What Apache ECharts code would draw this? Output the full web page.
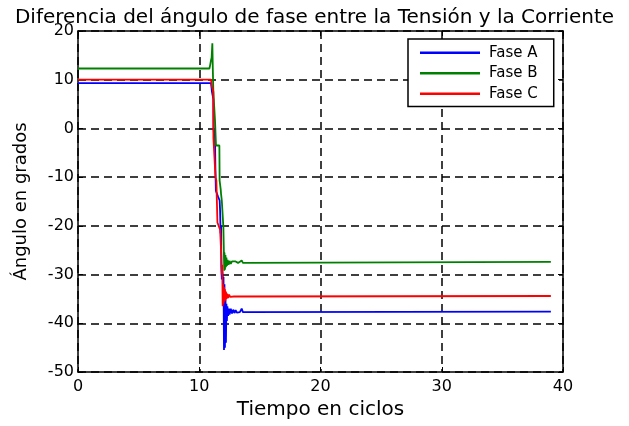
<!DOCTYPE html>
<html>
<head>
<meta charset="utf-8">
<script src="https://cdn.jsdelivr.net/npm/echarts@6/dist/echarts.min.js"></script>
<style>html,body{margin:0;padding:0;background:#fff}#c{width:629px;height:426px}</style>
</head>
<body>
<div id="c"></div>
<script>
// ---- data (cycles, degrees) ----
const xTicks = [0, 10, 20, 30, 40];
const yTicks = [-50, -40, -30, -20, -10, 0, 10, 20];

const tA = [0, 10.97, 11.05, 11.16, 11.18, 11.22, 11.28, 11.30, 11.33, 11.37, 11.45, 11.55, 11.68, 11.72, 11.76, 11.80, 11.82, 11.86, 11.90, 11.96, 12.00, 12.04, 12.08, 12.12, 12.16, 12.20, 12.24, 12.28, 12.32, 12.38, 12.44, 12.50, 12.60, 12.70, 12.80, 12.90, 13.00, 13.10, 13.20, 13.35, 13.50, 13.60, 13.70, 39];
const faseA = [9.3, 9.3, 7.5, 6, 0, -1.5, 0, -2, -8, -12.8, -12.5, -14, -14.8, -17, -21.5, -20, -28.5, -31, -29, -31, -30.5, -45.5, -32, -45, -34, -44, -36, -39.5, -36.5, -38.5, -37, -38.2, -37, -38, -37.2, -37.9, -37.3, -37.8, -37.4, -37.7, -37.0, -37.7, -37.6, -37.6];

const tB = [0, 10.84, 10.90, 10.97, 11.02, 11.08, 11.12, 11.16, 11.22, 11.30, 11.38, 11.50, 11.66, 11.68, 11.77, 11.80, 11.86, 11.99, 12.02, 12.06, 12.08, 12.12, 12.16, 12.20, 12.24, 12.28, 12.34, 12.42, 12.50, 12.60, 12.70, 12.85, 13.00, 13.20, 13.50, 13.60, 13.70, 39];
const faseB = [12.3, 12.3, 13, 14, 14.5, 17.5, 12, 7.7, 5, 1.6, -3.5, -3.5, -3.5, -10.7, -12.5, -13.5, -14.8, -20.3, -24, -29.2, -25.5, -29, -26, -28.5, -26.5, -28.2, -27, -28, -27.2, -27.8, -27.3, -27.7, -27.3, -27.6, -27.1, -27.6, -27.4, -27.4];

const tC = [0, 10.97, 11.05, 11.12, 11.16, 11.17, 11.32, 11.34, 11.41, 11.50, 11.72, 11.76, 11.82, 11.86, 11.90, 11.93, 11.97, 12.00, 12.04, 12.08, 12.12, 12.16, 12.20, 12.25, 12.30, 12.38, 12.46, 12.55, 12.70, 12.85, 39];
const faseC = [10, 10, 8.5, 8, 7.5, -2, -2, -10, -10.7, -19.3, -20.8, -21, -26, -30, -28, -36.5, -32, -36, -32.5, -35.5, -33, -35.3, -33.5, -35, -33.9, -34.8, -34.1, -34.6, -34.3, -34.5, -34.4];

const names = ['Fase A', 'Fase B', 'Fase C'];
const colors = ['#0000ff', '#008000', '#ff0000'];
const titleText = 'Diferencia del ángulo de fase entre la Tensión y la Corriente';
const xName = 'Tiempo en ciclos';
const yName = 'Ángulo en grados';

const zip = (t, v) => t.map((x, i) => [x, v[i]]);
const FONT = 'DejaVu Sans';

const chart = echarts.init(document.getElementById('c'), null, {renderer: 'canvas'});
const axLine = {show: true, onZero: false, lineStyle: {color: '#000', width: 1.5}};
const tick = {show: true, inside: true, length: 5, lineStyle: {color: '#000', width: 1}};
const grid = {show: true, lineStyle: {color: '#000', width: 1.5, type: [8, 5]}};

chart.setOption({
  animation: false,
  backgroundColor: '#fff',
  title: {
    text: titleText, left: 'center', top: 3,
    textStyle: {fontFamily: FONT, fontSize: 20, fontWeight: 'normal', color: '#000'}
  },
  legend: {
    data: names, orient: 'vertical', left: 408, top: 39,
    icon: 'rect', itemWidth: 60, itemHeight: 2.5, itemGap: 3,
    padding: [5, 16, 4, 12],
    borderColor: '#000', borderWidth: 1.5, backgroundColor: '#fff', borderRadius: 0,
    textStyle: {fontFamily: FONT, fontSize: 15, color: '#000', padding: [0, 0, 0, 4], lineHeight: 17.5}
  },
  grid: {left: 78, right: 66, top: 31, bottom: 54, containLabel: false},
  xAxis: [{
    type: 'value', min: xTicks[0], max: xTicks[xTicks.length - 1], interval: 10,
    name: xName, nameLocation: 'middle', nameGap: 27,
    nameTextStyle: {fontFamily: FONT, fontSize: 20, color: '#000'},
    axisLine: axLine, axisTick: tick, splitLine: grid,
    axisLabel: {fontFamily: FONT, fontSize: 16, color: '#000', margin: 7}
  }, {
    type: 'value', position: 'top', min: 0, max: 40, interval: 10,
    axisLine: axLine, axisTick: tick, splitLine: {show: false}, axisLabel: {show: false}
  }],
  yAxis: [{
    type: 'value', min: yTicks[0], max: yTicks[yTicks.length - 1], interval: 10,
    name: yName, nameLocation: 'middle', nameGap: 48, nameRotate: 90,
    nameTextStyle: {fontFamily: FONT, fontSize: 18, color: '#000'},
    axisLine: axLine, axisTick: tick, splitLine: grid,
    axisLabel: {fontFamily: FONT, fontSize: 16, color: '#000', margin: 4}
  }, {
    type: 'value', position: 'right', min: -50, max: 20, interval: 10,
    axisLine: axLine, axisTick: tick, splitLine: {show: false}, axisLabel: {show: false}
  }],
  series: [
    {name: names[0], type: 'line', data: zip(tA, faseA), symbol: 'none', color: colors[0], lineStyle: {width: 1.8}, z: 3},
    {name: names[1], type: 'line', data: zip(tB, faseB), symbol: 'none', color: colors[1], lineStyle: {width: 1.8}, z: 4},
    {name: names[2], type: 'line', data: zip(tC, faseC), symbol: 'none', color: colors[2], lineStyle: {width: 1.8}, z: 5}
  ]
});
</script>
</body>
</html>
